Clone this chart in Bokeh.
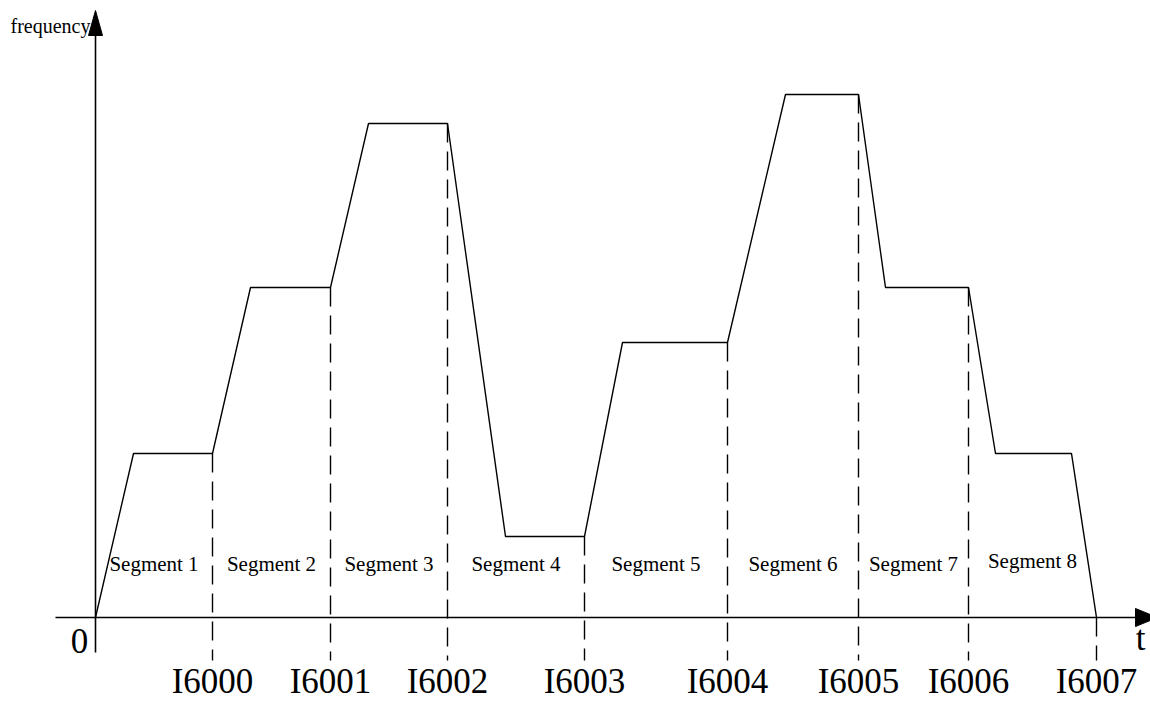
import numpy as np
from bokeh.plotting import figure
from bokeh.models import Range1d, ColumnDataSource
from bokeh.core.properties import value
from bokeh.embed import file_html
from bokeh.resources import INLINE

# ---- data ----
boundary_labels = ["I6000", "I6001", "I6002", "I6003", "I6004", "I6005", "I6006", "I6007"]
boundary_t = [117, 235, 352, 489, 632, 763, 873, 1001]
profile_t = [0, 38, 117, 155, 235, 273, 352, 410, 489, 527, 632, 690, 763, 790, 873, 900, 976, 1001]
profile_f = [0, 164, 164, 330, 330, 494, 494, 81, 81, 275, 275, 523, 523, 330, 330, 164, 164, 0]
segment_labels = ["Segment 1", "Segment 2", "Segment 3", "Segment 4",
                  "Segment 5", "Segment 6", "Segment 7", "Segment 8"]
segment_label_f = [54, 54, 54, 54, 54, 54, 54, 57]

FONT = value("Liberation Serif")

p = figure(width=1150, height=701, output_backend="svg", toolbar_location=None,
           x_range=Range1d(-95, 1055), y_range=Range1d(-84, 617),
           min_border=0, min_border_left=0, min_border_right=0,
           min_border_top=0, min_border_bottom=0)
p.axis.visible = False
p.xgrid.visible = False
p.ygrid.visible = False
p.outline_line_color = None
p.background_fill_color = "white"
p.border_fill_color = "white"

# axes with arrows
x_axis_start, x_axis_end = -40, 1045
y_axis_start, y_axis_end = -35, 585
p.segment(x0=[x_axis_start], y0=[0], x1=[x_axis_end], y1=[0], line_color="black", line_width=1.6)
p.segment(x0=[0], y0=[y_axis_start], x1=[0], y1=[y_axis_end], line_color="black", line_width=1.6)
p.patch(x=[-7, 7, 0], y=[y_axis_end - 3, y_axis_end - 3, y_axis_end + 22], color="black")
p.patch(x=[x_axis_end - 5, x_axis_end - 5, x_axis_end + 17], y=[9, -9, 0], color="black")

# dashed boundaries
tops = np.interp(boundary_t, profile_t, profile_f)
dash_src = ColumnDataSource(dict(x=boundary_t, top=tops, bottom=[-43] * len(boundary_t)))
p.segment(x0="x", y0="top", x1="x", y1="bottom", source=dash_src,
          line_color="black", line_width=1.4, line_dash="19 9")

# frequency profile
p.line(profile_t, profile_f, line_color="black", line_width=1.4)

# segment labels
mids = [(a + b) / 2 for a, b in zip([0] + boundary_t[:-1], boundary_t)]
seg_src = ColumnDataSource(dict(x=mids, y=segment_label_f, text=segment_labels))
p.text(x="x", y="y", text="text", source=seg_src, text_font=FONT,
       text_font_size="21px", text_align="center", text_baseline="middle", text_color="black")

# boundary labels
b_src = ColumnDataSource(dict(x=boundary_t, y=[-83] * len(boundary_t), text=boundary_labels))
p.text(x="x", y="y", text="text", source=b_src, text_font=FONT,
       text_font_size="35px", text_align="center", text_baseline="bottom", text_color="black")

# axis names
p.text(x=[-16], y=[-35], text=["0"], text_font=FONT, text_font_size="35px",
       text_align="center", text_baseline="bottom", text_color="black")
p.text(x=[1045], y=[-40], text=["t"], text_font=FONT, text_font_size="35px",
       text_align="center", text_baseline="bottom", text_color="black")
p.text(x=[-5], y=[592], text=["frequency"], text_font=FONT, text_font_size="20px",
       text_align="right", text_baseline="middle", text_color="black")

open("out.html", "w").write(file_html(p, INLINE))
